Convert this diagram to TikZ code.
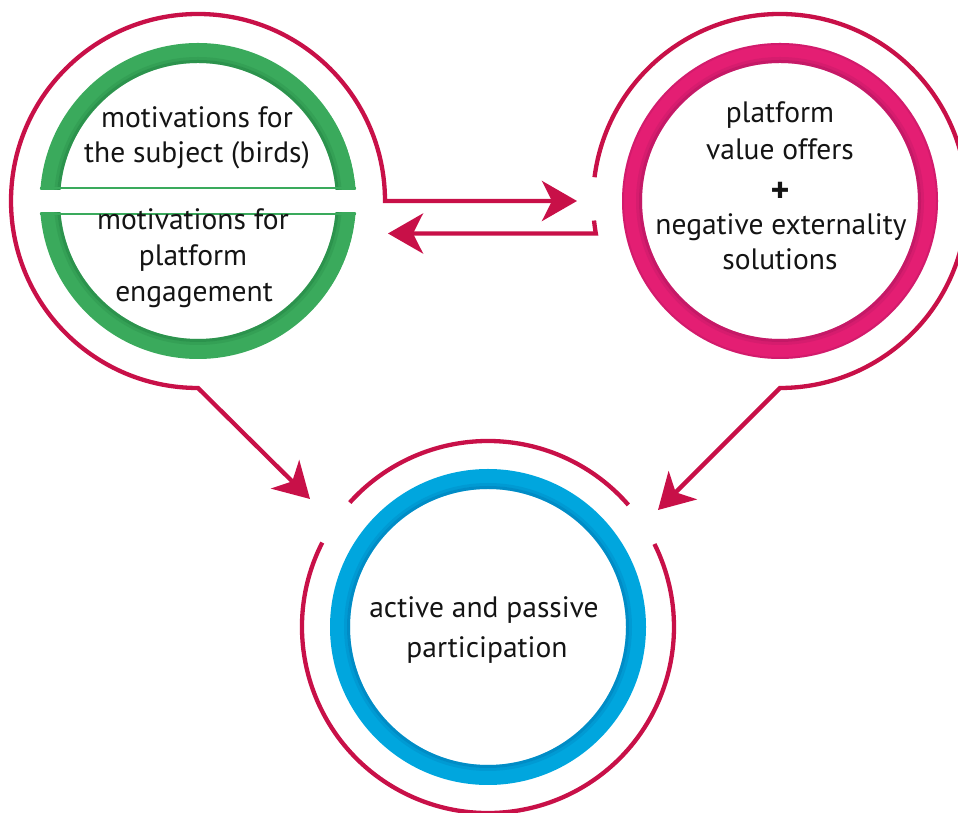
\documentclass[tikz,border=0pt]{standalone}
\usepackage{fontspec}
\setmainfont{PT Sans}
\usetikzlibrary{arrows.meta,calc}
\definecolor{crim}{RGB}{200,16,72}
\definecolor{grn}{RGB}{58,170,92}
\definecolor{grnd}{RGB}{28,120,60}
\definecolor{mag}{RGB}{228,30,115}
\definecolor{magd}{RGB}{160,20,90}
\definecolor{blu}{RGB}{0,166,222}
\definecolor{blud}{RGB}{0,110,170}
\begin{document}
\begin{tikzpicture}[x=1pt,y=1pt,
  link/.style={draw=crim, line width=4.3pt, line join=miter},
  endtip/.style={-{Stealth[length=35pt,width=40pt,inset=10pt]}},
  bothtips/.style={{Stealth[length=35pt,width=40pt,inset=10pt]}-{Stealth[length=35pt,width=40pt,inset=10pt]}},
  holder/.style={circle, minimum size=316pt, inner sep=0pt},
  lbl/.style={font=\fontsize{29.5}{36}\selectfont, anchor=base, inner sep=0pt, text=black!92}]
\clip (0,0) rectangle (958,813);
\fill[white] (0,0) rectangle (958,813);
% circle holders
\node[holder] (L) at (198,612) {};
\node[holder] (R) at (780,612) {};
\node[holder] (B) at (488,186) {};
% green split ring
\begin{scope}
  \clip (L.center) circle (158.5);
  \begin{scope}
    \clip ($(L.center)+(-170,11.8)$) rectangle ($(L.center)+(170,170)$);
    \draw[grn, line width=20pt] (L.center) circle (148);
    \draw[grnd, line width=3pt, opacity=.45] (L.center) circle (139.5);
    \draw[grnd, line width=3pt, opacity=.2] (L.center) circle (142.5);
    \draw[grn, line width=2.6pt] ($(L.center)+(-160,13)$) -- ($(L.center)+(160,13)$);
  \end{scope}
  \begin{scope}
    \clip ($(L.center)+(-170,-11.8)$) rectangle ($(L.center)+(170,-170)$);
    \draw[grn, line width=20pt] (L.center) circle (148);
    \draw[grnd, line width=3pt, opacity=.45] (L.center) circle (139.5);
    \draw[grnd, line width=3pt, opacity=.2] (L.center) circle (142.5);
    \draw[grn, line width=2.6pt] ($(L.center)+(-160,-13)$) -- ($(L.center)+(160,-13)$);
  \end{scope}
\end{scope}
% magenta ring
\draw[mag, line width=20pt] (R.center) circle (148);
\draw[magd, line width=3pt, opacity=.45] (R.center) circle (139.5);
\draw[magd, line width=3pt, opacity=.2] (R.center) circle (142.5);
\draw[magd, line width=2pt, opacity=.25] (R.center) circle (157);
% blue ring
\draw[blu, line width=20pt] (B.center) circle (148);
\draw[blud, line width=3pt, opacity=.45] (B.center) circle (139.5);
\draw[blud, line width=3pt, opacity=.2] (B.center) circle (142.5);
% connectors
\coordinate (ta) at (577,612);
\coordinate (tb) at (388,579.5);
\draw[link, bothtips] (ta) -- ($(L.center)+(0:187)$) arc[start angle=0, end angle=270, radius=187] -- ++(112,-111);
\draw[link, endtip] ($(R.center)+(172.7:187)$) arc[start angle=172.7, end angle=-90, radius=187] -- ++(-122,-122);
\draw[link, endtip] ($(R.center)+(186:187)$) arc[start angle=186, end angle=190, radius=187] -- (tb);
% bottom outer arcs
\draw[link] ($(B.center)+(41:186)$) arc[start angle=41, end angle=138, radius=186];
\draw[link] ($(B.center)+(153:186)$) arc[start angle=153, end angle=386.5, radius=186];
% labels
\node[lbl] (l1) at (197,685) {motivations for};
\node[lbl] (l2) at (197,650) {the subject (birds)};
\node[lbl] (l3) at (193,583) {motivations for};
\node[lbl] (l4) at (193,547) {platform};
\node[lbl] (l5) at (194,511) {engagement};
\node[lbl] (r1) at (780,690) {platform};
\node[lbl] (r2) at (780,653) {value offers};
\node[font=\fontsize{36}{36}\selectfont\bfseries, inner sep=0pt, text=black!92] (r3) at (780,621) {+};
\node[lbl] (r4) at (781,578) {negative externality};
\node[lbl] (r5) at (780,543) {solutions};
\node[lbl] (b1) at (484,195) {active and passive};
\node[lbl] (b2) at (487,155) {participation};
\end{tikzpicture}
\end{document}
